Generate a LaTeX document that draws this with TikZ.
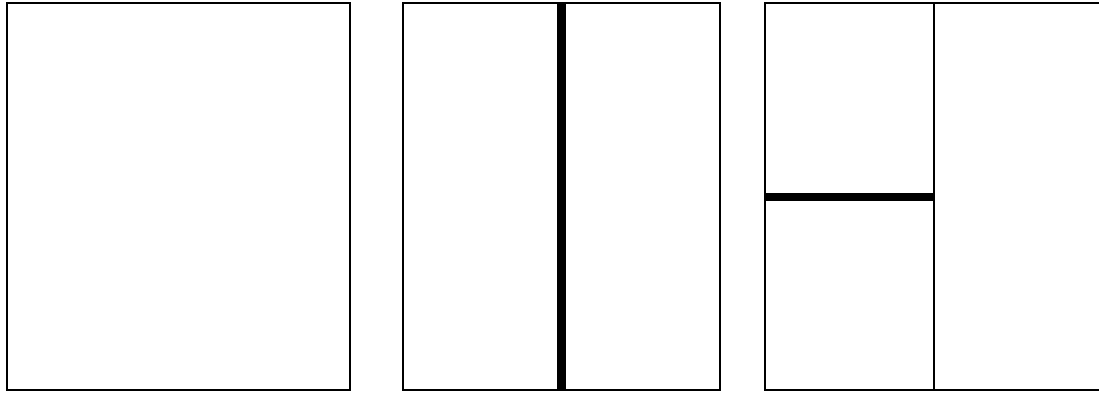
\documentclass[tikz,border=0pt]{standalone}
\usepackage{tikz}
\usetikzlibrary{positioning}

\begin{document}
\begin{tikzpicture}[
  x=0.025cm, y=-0.025cm,
  panel/.style={draw, line width=1.4pt},
  divider/.style={draw, line width=1.4pt},
  cut/.style={draw, line width=5.8pt},
]
  \clip (0,0) rectangle (1099,394);
  % panels
  \coordinate (whole-nw) at (7,3);    \coordinate (whole-se) at (350,390);
  \coordinate (vsplit-nw) at (403,3); \coordinate (vsplit-se) at (720,390);
  \coordinate (hsplit-nw) at (765,3); \coordinate (hsplit-se) at (1115,390);
  \draw[panel] (whole-nw) rectangle (whole-se);
  \draw[panel] (vsplit-nw) rectangle (vsplit-se);
  \draw[panel] (hsplit-nw) rectangle (hsplit-se);
  % splits
  \coordinate (vcut-top) at (561.5,3); \coordinate (vcut-bot) at (561.5,390);
  \draw[cut] (vcut-top) -- (vcut-bot);
  \coordinate (div-top) at (934,3); \coordinate (div-bot) at (934,390);
  \draw[divider] (div-top) -- (div-bot);
  \coordinate (hcut-l) at (765,197); \coordinate (hcut-r) at (934,197);
  \draw[cut] (hcut-l) -- (hcut-r);
\end{tikzpicture}
\end{document}
